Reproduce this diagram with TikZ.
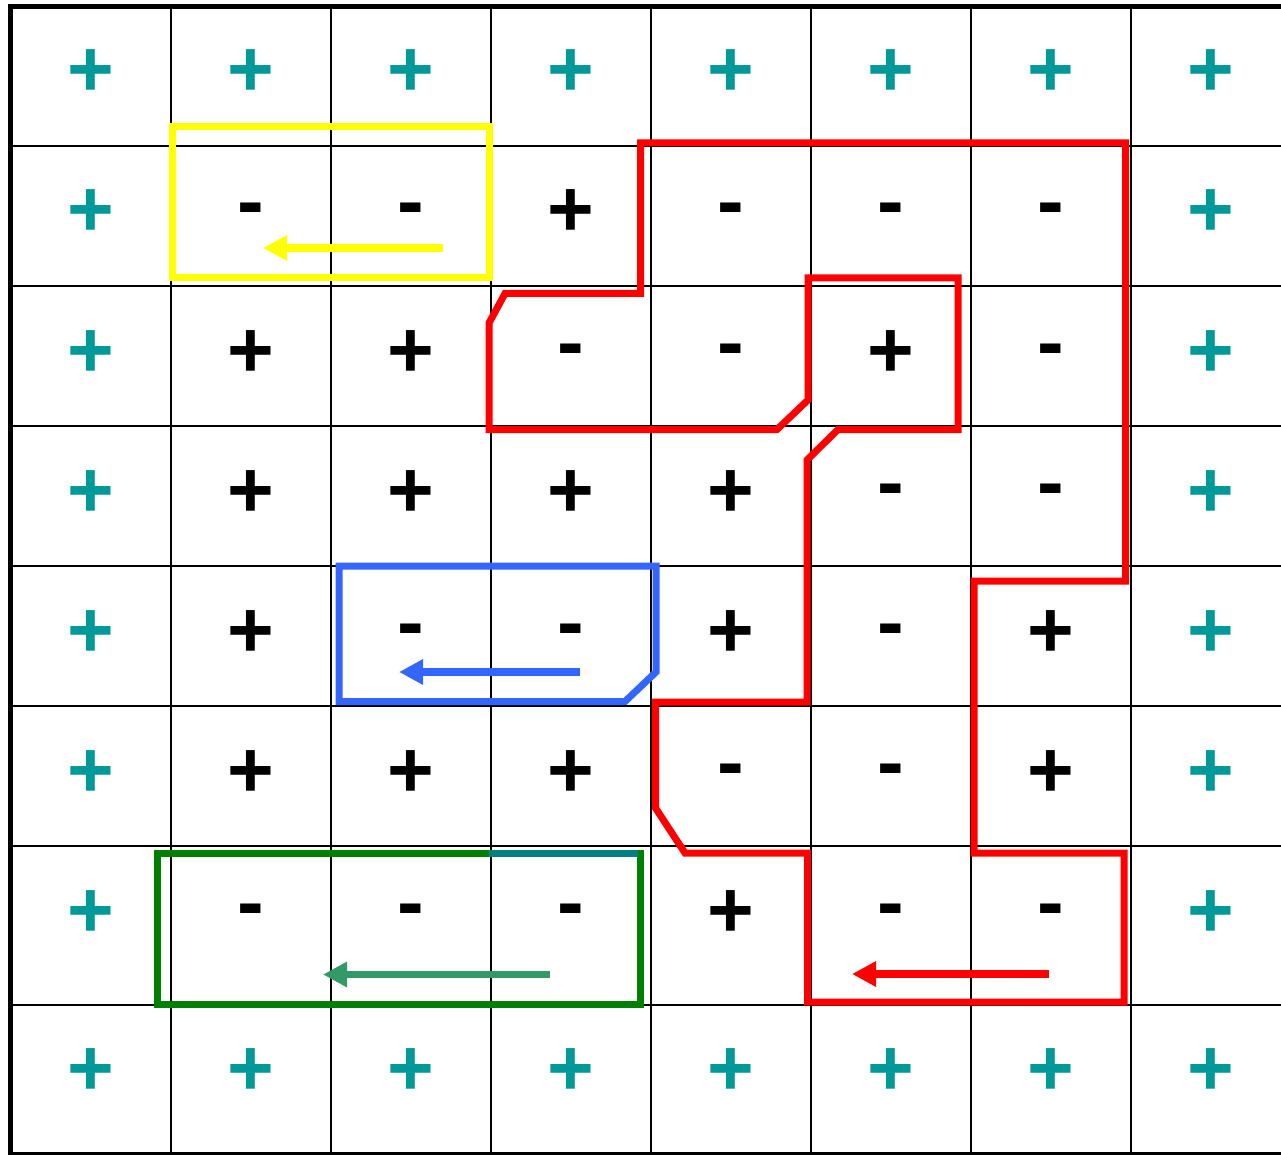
\documentclass[tikz,border=0pt]{standalone}
\usepackage{fontspec}
\setmainfont{Liberation Sans}
\usetikzlibrary{arrows.meta}
\definecolor{tealc}{HTML}{009999}
\definecolor{yellowc}{HTML}{FFFF00}
\definecolor{redc}{HTML}{FF0000}
\definecolor{bluec}{HTML}{3366FF}
\definecolor{greenc}{HTML}{008000}
\definecolor{teall}{HTML}{008080}
\definecolor{greena}{HTML}{339966}
\newcommand\symt{+}
\newcommand\symp{+}
\newcommand\symm{-}
\tikzset{
  gridline/.style={line width=2pt, black},
  frameline/.style={line width=5.5pt, black},
  sgn/.style={font=\fontsize{80}{80}\selectfont\bfseries, inner sep=0pt, anchor=base},
  stp/.style={sgn, text=black, yshift=-27pt},
  stt/.style={stp, text=tealc},
  stm/.style={sgn, text=black, yshift=-19pt},
  loopline/.style={line width=7pt, line join=miter},
  arr/.style={line width=7.5pt, -{Triangle[length=24pt,width=24pt]}},
}
\begin{document}
\begin{tikzpicture}[x=1pt,y=-1pt]
\useasboundingbox (0,0) rectangle (1281,1155);
\clip (0,0) rectangle (1281,1155);
% grid
\foreach \gx in {170.5,330.5,490.5,650.5,810.5,970.5,1130.5}
  \draw[gridline] (\gx,6) -- (\gx,1155);
\foreach \gy in {145.8,285.8,425.8,565.8,705.8,845.8,1004.5}
  \draw[gridline] (10,\gy) -- (1281,\gy);
\draw[line width=3pt] (10,1153.5) -- (1281,1153.5);
\draw[frameline] (10.3,1160) -- (10.3,6.5) -- (1290,6.5);
% signs
\foreach \row [count=\r] in {
  {t,t,t,t,t,t,t,t},
  {t,m,m,p,m,m,m,t},
  {t,p,p,m,m,p,m,t},
  {t,p,p,p,p,m,m,t},
  {t,p,m,m,p,m,p,t},
  {t,p,p,p,m,m,p,t},
  {t,m,m,m,p,m,m,t},
  {t,t,t,t,t,t,t,t}}{
  \foreach \s [count=\c] in \row {
    \pgfmathsetmacro\yy{\r==8 ? 1068 : 70+140*(\r-1)}
    \pgfmathsetmacro\xx{90.5+160*(\c-1)}
    \node[st\s] (n-\r-\c) at (\xx,\yy) {\csname sym\s\endcsname};
  }
}
% yellow loop
\draw[loopline, yellowc] (172,127) rectangle (489,277.5);
\coordinate (ya1) at (443,248);
\coordinate (ya2) at (263,248);
\draw[arr, yellowc] (ya1) -- (ya2);
% blue loop
\draw[loopline, bluec] (339,566) -- (656,566) -- (656,672) -- (625,701.5) -- (339,701.5) -- cycle;
\coordinate (ba1) at (580,672);
\coordinate (ba2) at (399,672);
\draw[arr, bluec] (ba1) -- (ba2);
% green loop
\draw[loopline, greenc] (157,853) rectangle (640,1004);
\draw[loopline, teall] (489,853) -- (638,853);
\coordinate (ga1) at (550,974.5);
\coordinate (ga2) at (323,974.5);
\draw[arr, greena] (ga1) -- (ga2);
% red loop
\draw[loopline, redc] (640.5,143) -- (1125.5,143) -- (1125.5,581) -- (974,581) -- (974,853) -- (1124,853) -- (1124,1002) -- (807.5,1002) -- (807.5,853) -- (685,853) -- (655.5,808) -- (655.5,702) -- (807,702) -- (807,460) -- (838,429.5) -- (958,429.5) -- (958,278) -- (808,278) -- (808,400) -- (777,429.5) -- (489,429.5) -- (489,323) -- (505,293.5) -- (640.5,293.5) -- cycle;
\coordinate (ra1) at (1049,974);
\coordinate (ra2) at (852,974);
\draw[arr, redc] (ra1) -- (ra2);
\end{tikzpicture}
\end{document}
